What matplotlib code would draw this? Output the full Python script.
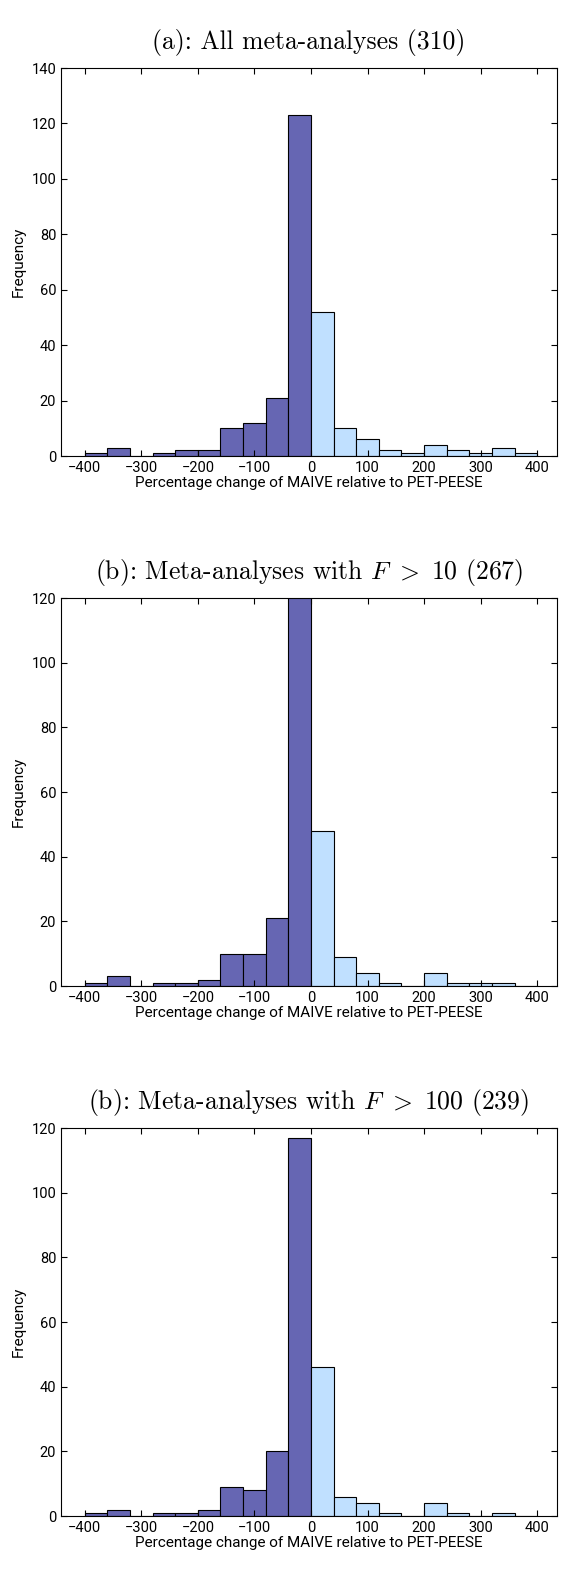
import numpy as np
import matplotlib.pyplot as plt

plt.rcParams['font.family'] = ['Roboto', 'DejaVu Sans']
plt.rcParams['mathtext.fontset'] = 'cm'

edges = np.arange(-400, 401, 40)
counts_all = [1, 3, 0, 1, 2, 2, 10, 12, 21, 123, 52, 10, 6, 2, 1, 4, 2, 1, 3, 1]
counts_f10 = [1, 3, 0, 1, 1, 2, 10, 10, 21, 125, 48, 9, 4, 1, 0, 4, 1, 1, 1, 0]
counts_f100 = [1, 2, 0, 1, 1, 2, 9, 8, 20, 117, 46, 6, 4, 1, 0, 4, 1, 0, 1, 0]
titles = ["(a): All meta-analyses (310)",
          r"(b): Meta-analyses with $F\ >\ 10$ (267)",
          r"(b): Meta-analyses with $F\ >\ 100$ (239)"]
ylims = [140, 120, 120]
dark, light = '#6666b3', '#c0e0ff'

W, H = 568, 1587
fig = plt.figure(figsize=(W / 100, H / 100), dpi=100)
tops = [68, 598, 1128]
for top, counts, title, ylim in zip(tops, [counts_all, counts_f10, counts_f100], titles, ylims):
    ax = fig.add_axes([61 / W, 1 - (top + 388) / H, 496 / W, 388 / H])
    lefts = edges[:-1]
    colors = [dark if l < 0 else light for l in lefts]
    ax.bar(lefts, counts, width=40, align='edge', color=colors, edgecolor='black', linewidth=0.8)
    ax.set_xlim(-442, 435)
    ax.set_ylim(0, ylim)
    ax.set_xticks(np.arange(-400, 401, 100))
    ax.set_yticks(np.arange(0, ylim + 1, 20))
    ax.tick_params(direction='in', top=True, right=True, labelsize=10.5, length=4)
    ax.set_xlabel('Percentage change of MAIVE relative to PET-PEESE', fontsize=11, labelpad=1)
    ax.set_ylabel('Frequency', fontsize=11)
    ax.set_title(title, fontsize=18.5, family=['cmr10', 'DejaVu Serif'], pad=14)

fig.savefig('out.png', dpi=100)
